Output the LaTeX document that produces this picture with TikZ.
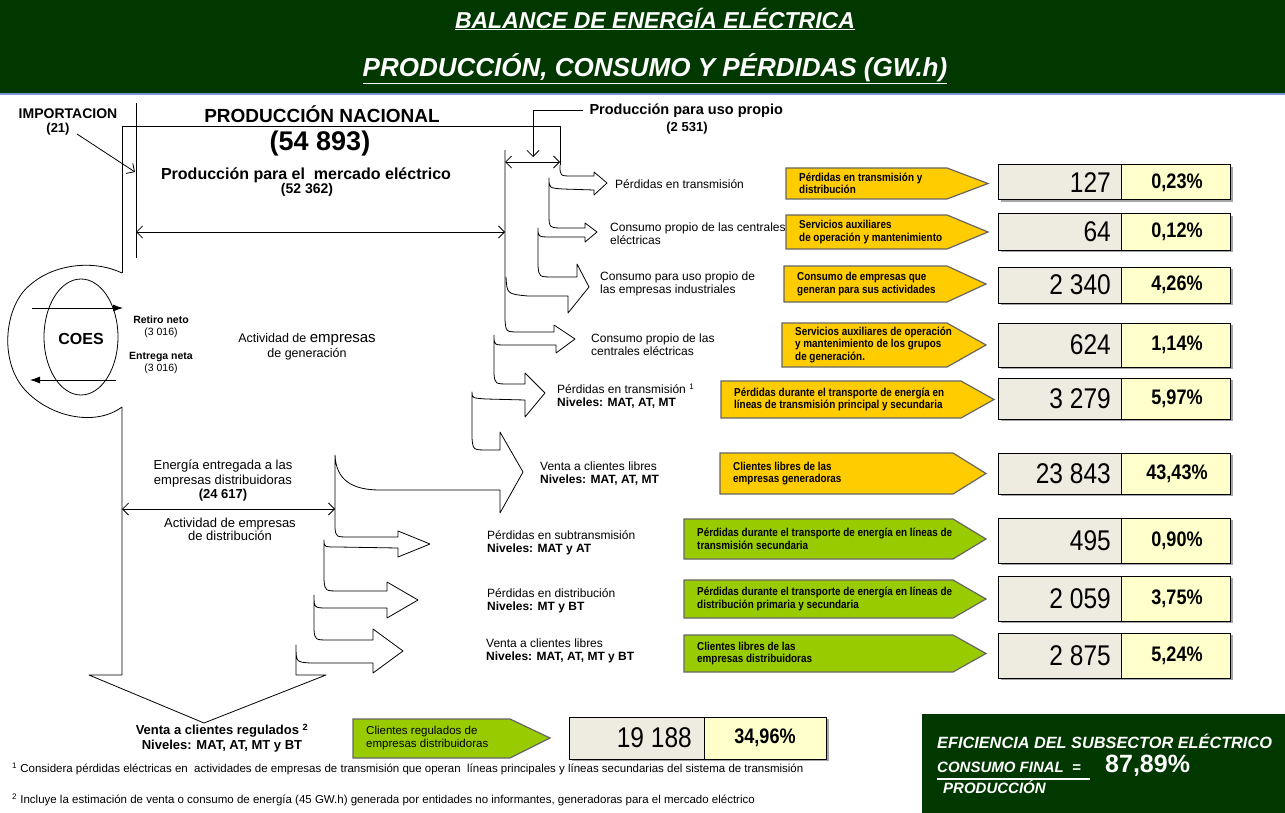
\documentclass[tikz,border=0pt]{standalone}
\usepackage{fontspec}
\setmainfont{Liberation Sans}
\newfontfamily\estrecha[FakeStretch=0.86]{Liberation Sans}
\usetikzlibrary{arrows.meta}

\definecolor{verdeosc}{RGB}{0,56,0}
\definecolor{amarillo}{RGB}{255,204,0}
\definecolor{verdelima}{RGB}{153,204,0}
\definecolor{gris}{RGB}{238,236,225}
\definecolor{crema}{RGB}{255,255,204}
\definecolor{azulclaro}{RGB}{120,150,210}

\begin{document}
\begin{tikzpicture}[x=1pt, y=-1pt, >={Straight Barb[length=6pt,width=12pt]},
  flujo/.style={line width=0.8pt, line join=round},
  caja/.style={draw=black!60, line width=1.2pt},
  celda/.style={draw=black, line width=1pt},
  txtcaja/.style={anchor=west, align=left, inner sep=0pt, font=\estrecha\bfseries\fontsize{11.5}{12.5}\selectfont},
  etiq/.style={anchor=west, align=left, inner sep=0pt, font=\fontsize{12}{13}\selectfont},
  numero/.style={anchor=east, inner sep=0pt, font=\estrecha\fontsize{28.5}{30}\selectfont},
  porc/.style={inner sep=0pt, font=\estrecha\bfseries\fontsize{21}{23}\selectfont},
  titulo/.style={text=white, inner sep=0pt, font=\bfseries\itshape\fontsize{23}{26}\selectfont},
  efic/.style={text=white, anchor=west, inner sep=0pt, font=\bfseries\itshape\fontsize{16.3}{18}\selectfont}]

  \useasboundingbox (0,0) rectangle (1285,813);

  % cabecera
  \fill[verdeosc] (0,0) rectangle (1285,93);
  \draw[azulclaro, line width=2pt] (0,94) -- (1285,94);
  \node[titulo] (tit1) at (655,19) {\underline{BALANCE DE ENERGÍA ELÉCTRICA}};
  \node[titulo, font=\bfseries\itshape\fontsize{26}{30}\selectfont] (tit2) at (655,69) {\underline{PRODUCCIÓN, CONSUMO Y PÉRDIDAS (GW.h)}};

  % producción nacional
  \node[font=\bfseries\fontsize{19}{21}\selectfont] (pnac) at (322,114) {PRODUCCIÓN NACIONAL};
  \node[font=\bfseries\fontsize{27}{30}\selectfont] (pnacv) at (320,144) {(54 893)};
  \node[font=\bfseries\fontsize{16}{18}\selectfont] (pmerc) at (306,175) {Producción para el~ mercado eléctrico};
  \node[font=\bfseries\fontsize{14}{16}\selectfont] (pmercv) at (307,190) {(52 362)};
  \node[anchor=west, font=\bfseries\fontsize{14.5}{16}\selectfont] (puso) at (586,111) {Producción para uso propio};
  \node[font=\bfseries\fontsize{13}{15}\selectfont] (pusov) at (687,128) {(2 531)};
  \node[font=\bfseries\fontsize{14}{16}\selectfont] (imp) at (68,114) {IMPORTACION};
  \node[font=\bfseries\fontsize{13}{15}\selectfont] (impv) at (58,129) {(21)};

  \draw[flujo] (136,103) -- (136,258);
  \draw[->, flujo] (77,134) -- (135,172);
  \draw[<->, flujo] (136,232) -- (505,232);
  \draw[<->, flujo] (505,162) -- (560,162);
  \draw[->, flujo] (583,110) -- (533,110) -- (533,157);

  % contorno exterior y COES
  \draw[flujo] (122,273) -- (122,126) -- (560,126) -- (560,165);
  \draw[flujo] (122,273) .. controls (95,260) and (55,263) .. (30,285)
    .. controls (5,305) and (-2,360) .. (25,390)
    .. controls (50,417) and (95,427) .. (122,407);
  \draw[flujo] (81,337) ellipse [x radius=37pt, y radius=58pt];
  \node[font=\bfseries\fontsize{16}{18}\selectfont] (coes) at (81,339) {COES};
  \draw[-{Latex[length=10pt,width=7pt]}, flujo] (32,308) -- (123,308);
  \draw[-{Latex[length=10pt,width=7pt]}, flujo] (116,380) -- (30,380);
  \node[align=center, font=\bfseries\fontsize{10.5}{12}\selectfont] (retiro) at (161,327) {Retiro neto\\\mdseries (3 016)};
  \node[align=center, font=\bfseries\fontsize{10.5}{12}\selectfont] (entrega) at (161,363) {Entrega neta\\\mdseries (3 016)};
  \node[align=center, font=\fontsize{12.5}{15}\selectfont] (actgen) at (307,347) {Actividad de {\fontsize{15}{15}\selectfont empresas}\\de generación};

  % ramas de uso propio
  \draw[flujo] (560,165) .. controls (560,176) .. (572,176) -- (594,176) -- (594,172) -- (607,183) -- (594,195) -- (594,190) -- (563,189) .. controls (549,188) .. (549,178)
    -- (549,214) .. controls (549,228) .. (564,228) -- (585,228) -- (585,223) -- (597,232) -- (585,242) -- (585,237) -- (552,237) .. controls (538,237) .. (538,228)
    -- (538,266) .. controls (539,277) .. (554,277) -- (577,277) -- (577,264) -- (589,287) -- (568,313) -- (568,296) -- (528,296) .. controls (507,294) .. (506,277);

  % ramas de generación y distribución
  \draw[flujo] (505,150) -- (505,320) .. controls (506,332) .. (520,332) -- (554,332) -- (554,325) -- (575,339) -- (556,353) -- (556,345) -- (506,345) .. controls (494,345) .. (494,335)
    -- (494,374) .. controls (495,384) .. (510,384) -- (525,384) -- (525,373) -- (545,393) -- (525,417) -- (525,400) -- (486,399) .. controls (472,398) .. (472,392)
    -- (472,438) .. controls (473,450) .. (488,450) -- (500,450) -- (500,432) -- (523,472) -- (500,513) -- (500,490) -- (380,490) .. controls (352,490) and (336,480) .. (335,455)
    -- (335,528) .. controls (336,537) .. (350,537) -- (398,537) -- (398,531) -- (430,544) -- (398,557) -- (398,548) -- (338,547) .. controls (324,547) .. (324,540)
    -- (324,580) .. controls (325,591) .. (340,591) -- (387,591) -- (387,582) -- (418,600) -- (387,618) -- (387,608) -- (328,608) .. controls (314,608) .. (314,595)
    -- (314,630) .. controls (315,640) .. (330,640) -- (373,640) -- (373,629) -- (403,651) -- (373,673) -- (373,663) -- (310,663) .. controls (296,662) .. (296,645)
    -- (296,675) -- (326,675) -- (204,723) -- (89,675) -- (122,675) -- (122,407);

  \draw[<->, flujo] (122,509) -- (335,509);
  \node[align=center, font=\fontsize{13}{14.5}\selectfont] (energ) at (223,481) {Energía entregada a las\\empresas distribuidoras\\\bfseries (24 617)};
  \node[align=center, font=\fontsize{13}{13}\selectfont] (actdis) at (230,529) {Actividad de empresas\\de distribución};
  \node[align=center, font=\bfseries\fontsize{13}{15}\selectfont] (reg) at (222,738) {Venta a clientes regulados \textsuperscript{2}\\Niveles: MAT, AT, MT y BT};

  % etiquetas de las ramas
  \node[etiq] (l1) at (615,184) {Pérdidas en transmisión};
  \node[etiq] (l2) at (610,234) {Consumo propio de las centrales\\eléctricas};
  \node[etiq] (l3) at (600,284) {Consumo para uso propio de\\las empresas industriales};
  \node[etiq] (l4) at (591,345) {Consumo propio de las\\centrales eléctricas};
  \node[etiq] (l5) at (557,396) {Pérdidas en transmisión \textsuperscript{1}\\\bfseries Niveles: MAT, AT, MT};
  \node[etiq] (l6) at (540,474) {Venta a clientes libres\\\bfseries Niveles: MAT, AT, MT};
  \node[etiq] (l7) at (487,543) {Pérdidas en subtransmisión\\\bfseries Niveles: MAT y AT};
  \node[etiq] (l8) at (487,601) {Pérdidas en distribución\\\bfseries Niveles: MT y BT};
  \node[etiq] (l9) at (486,651) {Venta a clientes libres\\\bfseries Niveles: MAT, AT, MT y BT};

  % cajas de descripción
  \foreach \i/\xl/\yt/\xb/\xt/\yb/\colr/\txt in {
      1/786/168/947/988/199/amarillo/{Pérdidas en transmisión y\\distribución},
      2/786/215/947/988/249/amarillo/{Servicios auxiliares\\de operación y mantenimiento},
      3/784/266/947/986/302/amarillo/{Consumo de empresas que\\generan para sus actividades},
      4/782/323/947/986/367/amarillo/{Servicios auxiliares de operación\\y mantenimiento de los grupos\\de generación.},
      5/721/381/961/994/418/amarillo/{Pérdidas durante el transporte de energía en\\líneas de transmisión principal y secundaria},
      6/720/453/953/986/494/amarillo/{Clientes libres de las\\empresas generadoras},
      7/684/519/953/986/559/verdelima/{Pérdidas durante el transporte de energía en líneas de\\transmisión secundaria},
      8/684/580/953/986/618/verdelima/{Pérdidas durante el transporte de energía en líneas de\\distribución primaria y secundaria},
      9/684/635/953/986/672/verdelima/{Clientes libres de las\\empresas distribuidoras}} {
    \draw[caja, fill=\colr] (\xl,\yt) -- (\xb,\yt) -- (\xt,{(\yt+\yb)/2}) -- (\xb,\yb) -- (\xl,\yb) -- cycle;
    \node[txtcaja] (caja\i) at ({\xl+13},{(\yt+\yb)/2}) {\txt};
  }
  \draw[caja, fill=verdelima] (353,719) -- (510,719) -- (550,738) -- (510,758) -- (353,758) -- cycle;
  \node[anchor=west, align=left, inner sep=0pt, font=\fontsize{11.5}{13}\selectfont] (caja10) at (366,738) {Clientes regulados de\\empresas distribuidoras};

  % valores y porcentajes
  \foreach \i/\yt/\yb/\valor/\pct in {1/165/200/127/{0,23\%}, 2/214/250/64/{0,12\%},
      3/267/303/{2 340}/{4,26\%}, 4/323/367/624/{1,14\%}, 5/378/419/{3 279}/{5,97\%},
      6/453/494/{23 843}/{43,43\%}, 7/518/563/495/{0,90\%}, 8/576/621/{2 059}/{3,75\%},
      9/633/678/{2 875}/{5,24\%}} {
    \fill[black!35] (1001,{\yt+2}) rectangle (1233,{\yb+2});
    \draw[celda, fill=gris] (998,\yt) rectangle (1121,\yb);
    \draw[celda, fill=crema] (1121,\yt) rectangle (1230,\yb);
    \node[numero] (val\i) at (1111,{(\yt+\yb)/2}) {\valor};
    \node[porc] (pct\i) at (1177,{(\yt+\yb)/2}) {\pct};
  }
  \fill[black!35] (572,719) rectangle (829,761);
  \draw[celda, fill=gris] (569,717) rectangle (704,759);
  \draw[celda, fill=crema] (704,717) rectangle (826,759);
  \node[numero] (val10) at (692,738) {19 188};
  \node[porc] (pct10) at (765,738) {34,96\%};

  % notas
  \node[anchor=west, inner sep=0pt, font=\fontsize{11.5}{13}\selectfont] (nota1) at (12,769) {\textsuperscript{1} Considera pérdidas eléctricas en~ actividades de empresas de transmisión que operan~ líneas principales y líneas secundarias del sistema de transmisión};
  \node[anchor=west, inner sep=0pt, font=\fontsize{11.5}{13}\selectfont] (nota2) at (12,800) {\textsuperscript{2} Incluye la estimación de venta o consumo de energía (45 GW.h) generada por entidades no informantes, generadoras para el mercado eléctrico};

  % eficiencia
  \fill[verdeosc] (922,714) rectangle (1285,813);
  \node[efic] (ef1) at (937,741) {EFICIENCIA DEL SUBSECTOR ELÉCTRICO};
  \node[efic, font=\bfseries\itshape\fontsize{15}{17}\selectfont] (ef2) at (937,767) {CONSUMO FINAL~ =};
  \node[efic, font=\bfseries\fontsize{25}{27}\selectfont] (ef3) at (1105,766) {87,89\%};
  \node[efic, font=\bfseries\itshape\fontsize{15}{17}\selectfont] (ef4) at (943,787) {PRODUCCIÓN};
  \draw[white, line width=1.5pt] (937,779) -- (1090,779);

\end{tikzpicture}
\end{document}
